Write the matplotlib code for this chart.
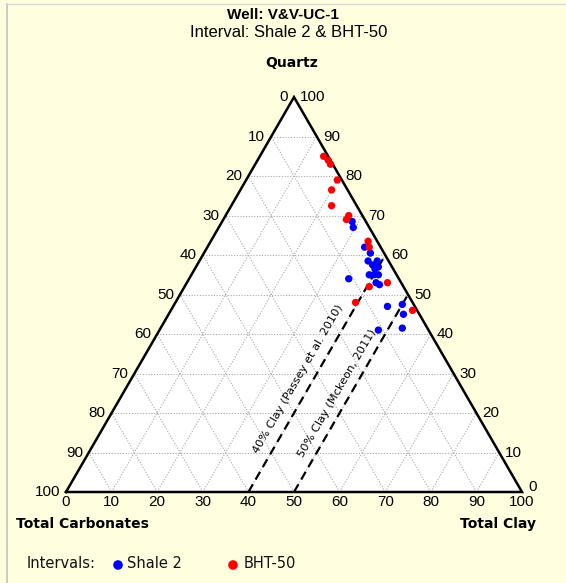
import numpy as np
import matplotlib
matplotlib.use("Agg")
import matplotlib.pyplot as plt

# ---------------- data (percent) ----------------
ticks = [0, 10, 20, 30, 40, 50, 60, 70, 80, 90, 100]

shale2_quartz = [68.5, 67, 62, 60.5, 58.5, 57.5, 58.5, 57, 56.5, 55, 55, 55, 53, 52.5, 54, 47, 47.5, 45, 41.5, 41]
shale2_clay = [28.5, 29.5, 34.5, 36.5, 37, 38.5, 39, 40, 39.5, 39, 40, 41, 41.5, 42.5, 35, 47, 50, 51.5, 53, 48]

bht50_quartz = [85, 84, 83, 79, 76.5, 72.5, 69, 70, 63.5, 62, 53, 48, 46, 52]
bht50_clay = [14, 15.5, 16.5, 20, 20, 22, 27, 27, 34.5, 35.5, 44, 39.5, 53, 40.5]

clay_lines = [40, 50]
clay_line_labels = ["40% Clay (Passey et al. 2010)", "50% Clay (Mckeon, 2011)"]

# ---------------- geometry ----------------
W, H = 566, 583
X0, Y0, S = 66.0, 492.0, 4.56   # pixel position of carbonate vertex, px per unit
H3 = np.sqrt(3) / 2


def tern(clay, quartz):
    clay = np.asarray(clay, float)
    quartz = np.asarray(quartz, float)
    return clay + quartz / 2.0, quartz * H3


def px(x, y):
    return (x - X0) / S, (Y0 - y) / S


fig = plt.figure(figsize=(W / 100, H / 100), dpi=100)
fig.patch.set_facecolor("#FFFFE0")
ax = fig.add_axes([0, 0, 1, 1])
ax.set_xlim(px(0, 0)[0], px(W, 0)[0])
ax.set_ylim(px(0, H)[1], px(0, 0)[1])
ax.axis("off")

# frame lines of the picture (left and top)
fig.add_artist(plt.Line2D([7 / W, 7 / W], [0, 1 - 4 / H], color="#c0c0c0", lw=1.2))
fig.add_artist(plt.Line2D([7 / W, 1], [1 - 4 / H, 1 - 4 / H], color="#d8d8d8", lw=1.0))

# triangle
tx = [0, 100, 50, 0]
ty = [0, 0, 100 * H3, 0]
ax.fill(tx, ty, color="white", zorder=1)

# grid
gkw = dict(color="#a8a8a8", lw=0.8, ls=(0, (1, 1.5)), zorder=2)
for v in ticks[1:-1]:
    a = tern([0, 100 - v], [v, v])          # constant quartz
    ax.plot(a[0], a[1], **gkw)
    a = tern([v, v], [0, 100 - v])          # constant clay
    ax.plot(a[0], a[1], **gkw)
    a = tern([100 - v, 0], [0, 100 - v])    # constant carbonate
    ax.plot(a[0], a[1], **gkw)

# clay reference lines
for c in clay_lines:
    a = tern([c, c], [0, 100 - c])
    ax.plot(a[0], a[1], color="black", lw=1.6, ls=(0, (4, 2.5)), zorder=3)

ax.plot(tx, ty, color="black", lw=1.8, zorder=4, solid_joinstyle="miter")

# line labels
for c, lab, q, dx in zip(clay_lines, clay_line_labels, [28.5, 25.0], [-3.3, -3.0]):
    x, y = tern(c, q)
    ax.text(x + dx, y, lab, rotation=60, rotation_mode="anchor",
            ha="center", va="center", fontsize=8.2, family="DejaVu Sans", zorder=5)

# points
ax.scatter(*tern(shale2_clay, shale2_quartz), s=28, color="#0000ff", edgecolors="none", zorder=6)
ax.scatter(*tern(bht50_clay, bht50_quartz), s=28, color="#ff0000", edgecolors="none", zorder=6)

# tick labels
tfont = dict(family="Liberation Sans", fontsize=11, zorder=5)
for v in ticks:
    # bottom: clay
    x, y = tern(v, 0)
    ax.text(x, y - 9.5 / S, str(v), ha="center", va="center", **tfont)
    # left: carbonate (clay = 0)
    x, y = tern(0, 100 - v)
    ax.text(x - 6 / S, y, str(v), ha="right", va="center", **tfont)
    # right: quartz (carbonate = 0)
    x, y = tern(100 - v, v)
    dy = 5 / S if v == 0 else 0
    ax.text(x + 6 / S, y + dy, str(v), ha="left", va="center", **tfont)

# titles
ax.text(*px(283, 15), "Well: V&V-UC-1", ha="center", va="center",
        family="Liberation Sans", weight="bold", fontsize=11)
ax.text(*px(289, 33), "Interval: Shale 2 & BHT-50", ha="center", va="center",
        family="Liberation Sans", fontsize=12)
ax.text(*px(292, 63), "Quartz", ha="center", va="center",
        family="DejaVu Sans", weight="bold", fontsize=10)
ax.text(*px(16, 524), "Total Carbonates", ha="left", va="center",
        family="DejaVu Sans", weight="bold", fontsize=10)
ax.text(*px(536, 524), "Total Clay", ha="right", va="center",
        family="DejaVu Sans", weight="bold", fontsize=10)

# legend
lfont = dict(family="DejaVu Sans", fontsize=10.5, color="#111111")
ax.text(*px(27, 564), "Intervals:", ha="left", va="center", **lfont)
ax.scatter(*px(118, 565), s=48, color="#0000ff", edgecolors="none")
ax.text(*px(127, 564), "Shale 2", ha="left", va="center", **lfont)
ax.scatter(*px(233, 565), s=48, color="#ff0000", edgecolors="none")
ax.text(*px(244, 564), "BHT-50", ha="left", va="center", **lfont)

fig.savefig("out.png", dpi=100, facecolor=fig.get_facecolor())
